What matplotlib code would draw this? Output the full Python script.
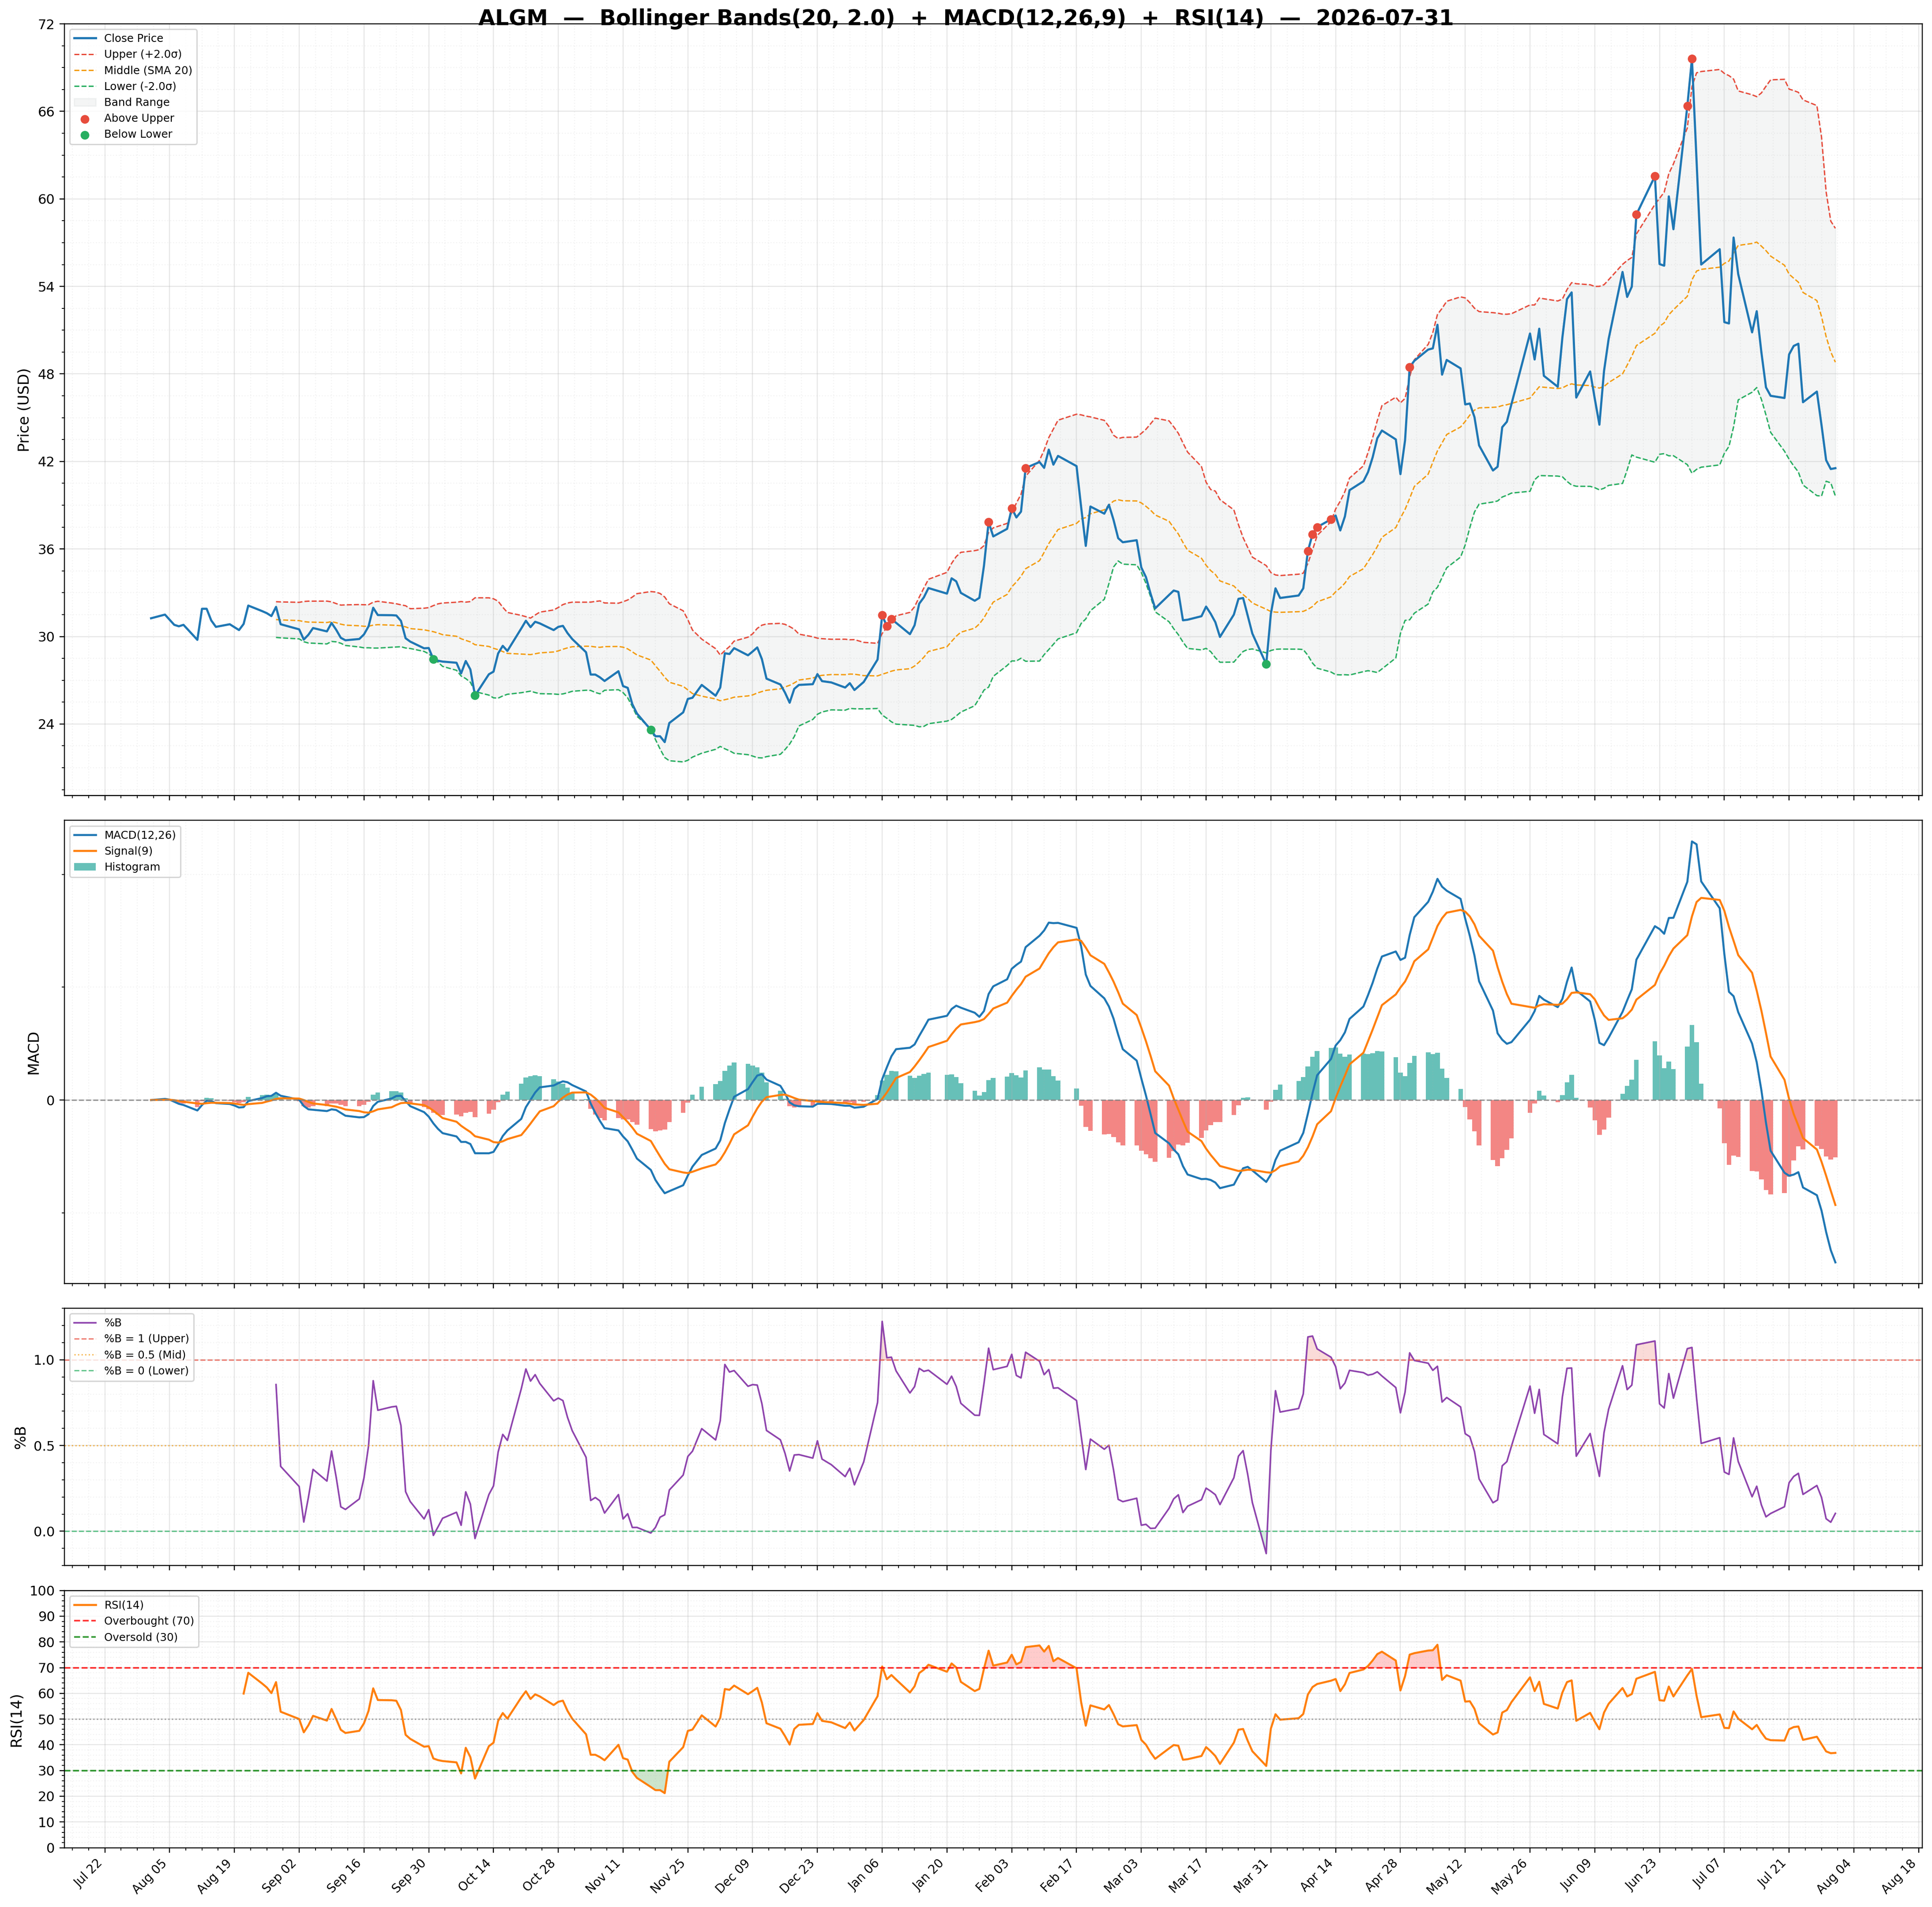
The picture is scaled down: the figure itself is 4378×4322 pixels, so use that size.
import numpy as np
import pandas as pd
import matplotlib
matplotlib.use('Agg')
import matplotlib.pyplot as plt
import matplotlib.dates as mdates
from matplotlib.ticker import MultipleLocator, AutoMinorLocator, FixedLocator

symbol = 'ALGM'
as_of = '2026-07-31'

# NYSE holidays inside the window (no bar on those days)
holidays = ['2025-09-01', '2025-11-27', '2025-12-25', '2026-01-01', '2026-01-19',
            '2026-02-16', '2026-04-03', '2026-05-25', '2026-06-19', '2026-07-03']

# daily closes, month by month
close_aug = [31.25, 31.5, 31.15, 30.8, 30.7, 30.8, 29.77, 31.9, 31.9, 31.1, 30.66,
             30.84, 30.64, 30.44, 30.86, 32.12, 31.74, 31.6, 31.4, 32.03, 30.84]
close_sep = [30.49, 29.79, 30.12, 30.58, 30.35, 30.93, 30.46, 29.91, 29.74, 29.83, 30.14,
             30.70, 31.97, 31.47, 31.46, 31.44, 31.07, 29.88, 29.65, 29.19, 29.21]
close_oct = [28.45, 28.34, 28.28, 28.2, 27.47, 28.32, 27.74, 25.95, 27.41, 27.59, 28.84, 29.36,
             29.01, 30.55, 31.08, 30.64, 31.01, 30.9, 30.44, 30.66, 30.73, 30.23, 29.83]
close_nov = [28.92, 27.39, 27.39, 27.2, 26.95, 27.62, 26.6, 26.48, 25.36, 24.72, 23.6, 23.16,
             23.16, 22.76, 24.07, 24.8, 25.72, 25.8, 26.68]
close_dec = [25.94, 26.5, 28.85, 28.8, 29.2, 28.71, 28.97, 29.25, 28.45, 27.11, 26.71, 26.15,
             25.46, 26.41, 26.68, 26.73, 27.42, 26.94, 26.85, 26.5, 26.8, 26.33]
close_jan = [26.88, 28.42, 31.46, 30.7, 31.2, 30.94, 30.16, 30.77, 32.25, 32.68, 33.32, 32.94,
             33.99, 33.78, 32.99, 32.45, 32.65, 34.86, 37.85, 36.86]
close_feb = [37.38, 38.8, 38.16, 38.56, 41.55, 41.96, 41.56, 42.81, 41.78, 42.38, 41.68, 38.86,
             36.21, 38.91, 38.42, 39.03, 37.99, 36.74, 36.46]
close_mar = [36.6, 34.73, 34.07, 32.94, 31.93, 32.85, 33.15, 33.06, 31.11, 31.15, 31.39, 32.05,
             31.56, 30.98, 29.97, 31.5, 32.58, 32.64, 31.42, 30.2, 28.1, 31.56]
close_apr = [33.3, 32.64, 32.81, 33.3, 35.85, 37.01, 37.5, 38.03, 38.29, 37.27, 38.23, 40.03,
             40.64, 41.27, 42.29, 43.59, 44.12, 43.51, 41.13, 43.45, 48.47]
close_may = [48.9, 49.67, 49.75, 51.37, 47.95, 48.96, 48.38, 45.91, 45.97, 45.04, 43.1, 41.38,
             41.64, 44.35, 44.72, 45.94, 50.77, 48.99, 51.1, 47.87]
close_jun = [47.12, 50.5, 53.13, 53.59, 46.38, 48.17, 46.3, 44.52, 48.2, 50.4, 54.99, 53.28,
             53.98, 58.93, 61.56, 55.53, 55.42, 60.17, 57.92, 66.36, 69.6]
close_jul = [62.6, 55.5, 56.55, 51.55, 51.46, 57.35, 54.84, 50.85, 52.3, 49.5, 47.08, 46.5,
             46.35, 49.34, 49.92, 50.07, 46.06, 46.79, 44.5, 42.09, 41.48, 41.54]

dates = pd.bdate_range('2025-08-01', '2026-07-31')
dates = dates[~dates.isin(pd.to_datetime(holidays))]
close = pd.Series(np.concatenate([close_aug, close_sep, close_oct, close_nov, close_dec,
                                  close_jan, close_feb, close_mar, close_apr, close_may,
                                  close_jun, close_jul]), index=dates)

# indicators
mid = close.rolling(20).mean()
sd = close.rolling(20).std()
upper = mid + 2.0 * sd
lower = mid - 2.0 * sd
pct_b = (close - lower) / (upper - lower)

ema12 = close.ewm(span=12, adjust=False).mean()
ema26 = close.ewm(span=26, adjust=False).mean()
macd = ema12 - ema26
signal = macd.ewm(span=9, adjust=False).mean()
hist = macd - signal

# Wilder smoothing
delta = close.diff()
gain = delta.clip(lower=0).ewm(alpha=1 / 14, adjust=False, min_periods=14).mean()
loss = (-delta.clip(upper=0)).ewm(alpha=1 / 14, adjust=False, min_periods=14).mean()
rsi = 100 - 100 / (1 + gain / loss)

above = close > upper
below = close < lower

fig, axes = plt.subplots(4, 1, figsize=(4378 / 220, 4322 / 220), dpi=220, sharex=True,
                         gridspec_kw={'height_ratios': [3, 1.8, 1, 1]})
fig.subplots_adjust(left=0.0333, right=0.9949, top=0.9875, bottom=0.0311, hspace=0.057)
ax1, ax2, ax3, ax4 = axes

# price + bands
ax1.plot(dates, close, color='#1f77b4', lw=1.6, label='Close Price', zorder=3)
ax1.plot(dates, upper, color='#e74c3c', lw=1, ls='--', label='Upper (+2.0σ)')
ax1.plot(dates, mid, color='#f39c12', lw=1, ls='--', label='Middle (SMA 20)')
ax1.plot(dates, lower, color='#27ae60', lw=1, ls='--', label='Lower (-2.0σ)')
ax1.fill_between(dates, lower, upper, color='#95a5a6', alpha=0.1, label='Band Range')
ax1.scatter(dates[above], close[above], color='#e74c3c', s=30, zorder=5, label='Above Upper')
ax1.scatter(dates[below], close[below], color='#27ae60', s=30, zorder=5, label='Below Lower')
ax1.set_ylabel('Price (USD)', fontsize=11)
ax1.set_ylim(19.1, 72)
ax1.yaxis.set_major_locator(MultipleLocator(6))
ax1.legend(loc='upper left', fontsize=8)

# MACD
hist_colors = np.where(hist >= 0, '#26a69a', '#ef5350')
ax2.bar(dates, hist, width=1.0, color=hist_colors, alpha=0.7, label='Histogram')
ax2.plot(dates, macd, color='#1f77b4', lw=1.5, label='MACD(12,26)')
ax2.plot(dates, signal, color='#ff7f0e', lw=1.5, label='Signal(9)')
ax2.axhline(0, color='gray', lw=1, ls='--', alpha=0.8)
ax2.set_ylabel('MACD', fontsize=11)
ax2.legend(loc='upper left', fontsize=8)

# %B
ax3.plot(dates, pct_b, color='#8e44ad', lw=1.2, label='%B')
ax3.axhline(1, color='#e74c3c', lw=1, ls='--', alpha=0.7, label='%B = 1 (Upper)')
ax3.axhline(0.5, color='#f39c12', lw=1, ls=':', alpha=0.7, label='%B = 0.5 (Mid)')
ax3.axhline(0, color='#27ae60', lw=1, ls='--', alpha=0.7, label='%B = 0 (Lower)')
ax3.fill_between(dates, 1, pct_b, where=pct_b > 1, color='#e74c3c', alpha=0.2, interpolate=True)
ax3.fill_between(dates, 0, pct_b, where=pct_b < 0, color='#27ae60', alpha=0.2, interpolate=True)
ax3.set_ylim(-0.2, 1.3)
ax3.yaxis.set_major_locator(MultipleLocator(0.5))
ax3.set_ylabel('%B', fontsize=11)
ax3.legend(loc='upper left', fontsize=8)

# RSI
ax4.plot(dates, rsi, color='#ff7f0e', lw=1.5, label='RSI(14)')
ax4.axhline(70, color='red', lw=1.2, ls='--', alpha=0.8, label='Overbought (70)')
ax4.axhline(30, color='green', lw=1.2, ls='--', alpha=0.8, label='Oversold (30)')
ax4.axhline(50, color='gray', lw=1, ls=':', alpha=0.7)
ax4.fill_between(dates, 70, rsi, where=rsi > 70, color='red', alpha=0.2, interpolate=True)
ax4.fill_between(dates, 30, rsi, where=rsi < 30, color='green', alpha=0.2, interpolate=True)
ax4.set_ylim(0, 100)
ax4.yaxis.set_major_locator(MultipleLocator(10))
ax4.set_ylabel('RSI(14)', fontsize=11)
ax4.legend(loc='upper left', fontsize=8)

ax4.set_xticks(pd.date_range('2025-07-22', '2026-08-18', freq='14D'))
ax4.xaxis.set_major_formatter(mdates.DateFormatter('%b %d'))
ax4.xaxis.set_minor_locator(AutoMinorLocator(4))
for lab in ax4.get_xticklabels():
    lab.set_rotation(45)
    lab.set_ha('right')
    lab.set_fontsize(9)

for ax in axes:
    ax.minorticks_on()
    ax.grid(True, which='major', alpha=0.3)
    ax.grid(True, which='minor', alpha=0.15, ls=':')
    ax.tick_params(axis='y', labelsize=10)

# MACD axis: only the zero line is labelled
ax2.yaxis.set_major_locator(FixedLocator([0]))
ax2.yaxis.set_minor_locator(MultipleLocator(2))

fig.suptitle(f'{symbol}  —  Bollinger Bands(20, 2.0)  +  MACD(12,26,9)  +  RSI(14)  —  {as_of}',
             fontsize=16, fontweight='bold', y=0.9955, va='top')

fig.savefig('out.png', dpi=220)
